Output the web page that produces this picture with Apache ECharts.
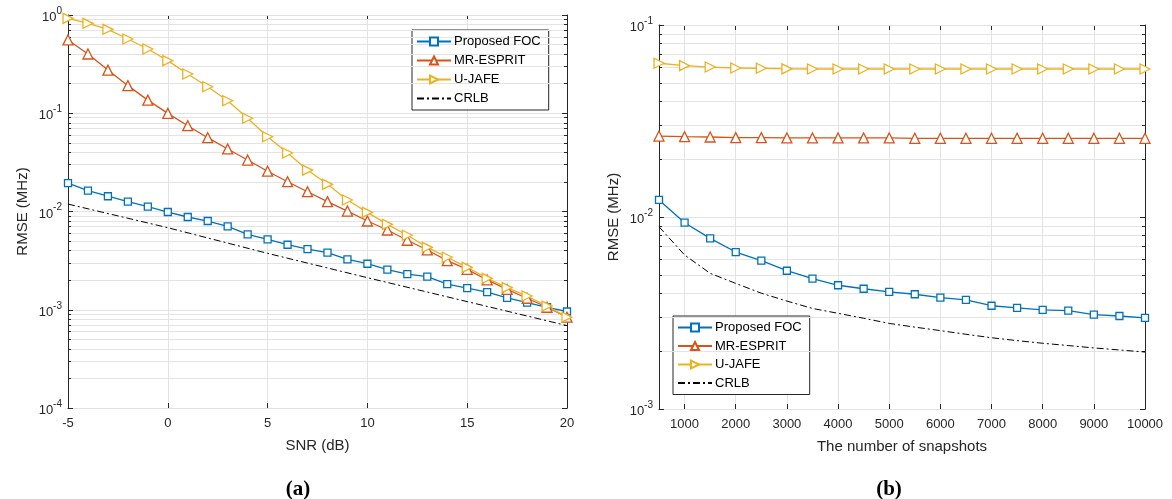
<!DOCTYPE html>
<html><head><meta charset="utf-8">
<script src="https://cdn.jsdelivr.net/npm/echarts@6/dist/echarts.min.js"></script>
<style>html,body{margin:0;padding:0;background:#fff}#c{width:1172px;height:499px}</style>
</head><body><div id="c"></div>
<script>
// ---- Panel (a): RMSE vs SNR ----
const snrDb = [-5,-4,-3,-2,-1,0,1,2,3,4,5,6,7,8,9,10,11,12,13,14,15,16,17,18,19,20];
const focSnr = [0.0194,0.0163,0.0143,0.0126,0.0112,0.00988,0.00879,0.0080,0.00706,0.00586,0.00521,0.00459,0.00415,0.00381,0.00326,0.00294,0.00256,0.0023,0.00217,0.00182,0.00166,0.00151,0.00132,0.00118,0.00106,0.00096];
const mrSnr = [0.557,0.401,0.275,0.191,0.136,0.0998,0.0747,0.0564,0.0433,0.0334,0.0257,0.0201,0.0159,0.0126,0.0101,0.0080,0.00648,0.0051,0.00406,0.00316,0.00258,0.00201,0.00161,0.00131,0.00106,0.00084];
const ujSnr = [0.925,0.823,0.715,0.570,0.451,0.343,0.251,0.186,0.134,0.0889,0.0577,0.0394,0.0264,0.0189,0.0131,0.0098,0.0074,0.00573,0.00432,0.00342,0.0027,0.00209,0.00168,0.00138,0.00109,0.00084];
const crlbSnrX = [-5,0,5,10,15,20];
const crlbSnr = [0.0119,0.00684,0.00375,0.00212,0.00121,0.00069];

// ---- Panel (b): RMSE vs number of snapshots ----
const snaps = [500,1000,1500,2000,2500,3000,3500,4000,4500,5000,5500,6000,6500,7000,7500,8000,8500,9000,9500,10000];
const focSnap = [0.01227,0.00934,0.00774,0.00657,0.00592,0.00525,0.00477,0.00441,0.00423,0.00407,0.00396,0.0038,0.0037,0.00345,0.00336,0.00328,0.00325,0.0031,0.00305,0.00298];
const mrSnap = [0.0264,0.0262,0.0261,0.0259,0.0259,0.0258,0.0258,0.0258,0.0258,0.0258,0.0257,0.0257,0.0257,0.0257,0.0257,0.0257,0.0257,0.0257,0.0257,0.0257];
const ujSnap = [0.0632,0.0614,0.0604,0.0597,0.0595,0.0591,0.059,0.059,0.059,0.059,0.059,0.059,0.059,0.059,0.059,0.059,0.059,0.059,0.059,0.059];
const crlbSnap = [0.0089,0.00634,0.00509,0.00451,0.00401,0.00365,0.00334,0.00315,0.00297,0.00279,0.00267,0.00256,0.00245,0.00235,0.00227,0.0022,0.00214,0.00208,0.00203,0.00198];
const snapTicks = [1000,2000,3000,4000,5000,6000,7000,8000,9000,10000];

const seriesNames = ['Proposed FOC','MR-ESPRIT','U-JAFE','CRLB'];

function minorVals(lo, hi){ // 2..9 x 10^k between decades lo..hi (exponents)
  const out=[]; for(let e=lo;e<hi;e++){ for(let m=2;m<=9;m++){ out.push(m*Math.pow(10,e)); } } return out;
}
const leftMinor = minorVals(-4,0);
const rightMinor = minorVals(-3,-1);

const C = {blue:'#0072BD', red:'#D95319', yellow:'#EDB120'};
const FONT = '"Liberation Sans", Arial, Helvetica, sans-serif';
const AX = '#262626';
const GRID = '#e3e3e3';

function pairs(xs, ys){ return xs.map((x,i)=>[x, ys[i]]); }

function supLabel(v){
  const e = Math.round(Math.log10(v));
  return '{b|10}{s|' + e + '}';
}
const supRich = {
  b:{fontSize:13, fontFamily:FONT, color:AX, lineHeight:18, verticalAlign:'bottom'},
  s:{fontSize:10, fontFamily:FONT, color:AX, lineHeight:18, verticalAlign:'top'}
};

function mainY(grid, min, max, decades, name, nameGap){
  return {type:'log', gridIndex:grid, min:min, max:max, logBase:10, position:'left',
    name:name, nameLocation:'middle', nameGap:nameGap, nameRotate:90,
    nameTextStyle:{fontSize:15, fontFamily:FONT, color:AX},
    axisLine:{show:true, onZero:false, lineStyle:{color:AX, width:1}},
    axisTick:{show:true, inside:true, length:5, lineStyle:{color:AX}, customValues:decades},
    axisLabel:{show:true, customValues:decades, formatter:supLabel, rich:supRich, margin:6},
    splitLine:{show:true, lineStyle:{color:GRID, width:1}},
    z:5};
}
function minorY(grid, min, max, vals, pos){
  return {type:'log', gridIndex:grid, min:min, max:max, logBase:10, position:pos,
    axisLine:{show:false, onZero:false}, axisLabel:{show:false},
    axisTick:{show:true, inside:true, length:3, lineStyle:{color:AX}, customValues:vals},
    splitLine:{show:pos==='left', lineStyle:{color:GRID, width:1}}, z:4};
}
function rightMajorY(grid, min, max, decades){
  return {type:'log', gridIndex:grid, min:min, max:max, logBase:10, position:'right',
    axisLine:{show:true, onZero:false, lineStyle:{color:AX}}, axisLabel:{show:false},
    axisTick:{show:true, inside:true, length:5, lineStyle:{color:AX}, customValues:decades},
    splitLine:{show:false}, z:5};
}

const serif = '"Liberation Serif", "DejaVu Serif", serif';
const capRich = {p:{fontSize:21, fontFamily:serif, color:'#000'}, b:{fontSize:21, fontWeight:'bold', fontFamily:serif, color:'#000'}};
const legendData = seriesNames.map(n => n==='CRLB' ? {name:n, itemStyle:{opacity:0}} : {name:n});

const option = {
  animation:false,
  backgroundColor:'#fff',
  textStyle:{fontFamily:FONT},
  title:[
    {text:'{p|(}{b|a}{p|)}', left:293, top:474, textAlign:'center', textStyle:{rich:capRich}},
    {text:'{p|(}{b|b}{p|)}', left:884, top:474, textAlign:'center', textStyle:{rich:capRich}}
  ],
  grid:[
    {left:68, top:15, width:499, height:393},
    {left:659, top:25, width:486, height:384}
  ],
  legend:[
    {orient:'vertical', left:412, top:30, data:legendData, itemWidth:34, itemHeight:10, itemGap:6,
     padding:[5,8,5,4], borderColor:AX, borderWidth:1, backgroundColor:'#fff',
     textStyle:{fontSize:13, fontFamily:FONT, color:'#000', padding:[0,0,0,-2]}, selectedMode:false},
    {orient:'vertical', left:673, top:316, data:legendData, itemWidth:34, itemHeight:10, itemGap:5.5,
     padding:[5,8,5,4], borderColor:AX, borderWidth:1, backgroundColor:'#fff',
     textStyle:{fontSize:13, fontFamily:FONT, color:'#000', padding:[0,0,0,-2]}, selectedMode:false}
  ],
  xAxis:[
    {type:'value', gridIndex:0, min:-5, max:20, interval:5, position:'bottom',
     name:'SNR (dB)', nameLocation:'middle', nameGap:30,
     nameTextStyle:{fontSize:15, fontFamily:FONT, color:AX},
     axisLine:{show:true, onZero:false, lineStyle:{color:AX}},
     axisTick:{show:true, inside:true, length:5, lineStyle:{color:AX}},
     axisLabel:{fontSize:13, fontFamily:FONT, color:AX, margin:9},
     splitLine:{show:true, lineStyle:{color:GRID}}},
    {type:'value', gridIndex:0, min:-5, max:20, interval:5, position:'top',
     axisLine:{show:true, onZero:false, lineStyle:{color:AX}},
     axisTick:{show:true, inside:true, length:5, lineStyle:{color:AX}},
     axisLabel:{show:false}, splitLine:{show:false}},
    {type:'value', gridIndex:1, min:500, max:10000, position:'bottom',
     name:'The number of snapshots', nameLocation:'middle', nameGap:30,
     nameTextStyle:{fontSize:15, fontFamily:FONT, color:AX},
     axisLine:{show:true, onZero:false, lineStyle:{color:AX}},
     axisTick:{show:true, inside:true, length:5, lineStyle:{color:AX}, customValues:snapTicks},
     axisLabel:{fontSize:13, fontFamily:FONT, color:AX, margin:9, customValues:snapTicks, formatter:v=>String(v)},
     splitLine:{show:true, lineStyle:{color:GRID}}},
    {type:'value', gridIndex:1, min:500, max:10000, position:'top',
     axisLine:{show:true, onZero:false, lineStyle:{color:AX}},
     axisTick:{show:true, inside:true, length:5, lineStyle:{color:AX}, customValues:snapTicks},
     axisLabel:{show:false}, splitLine:{show:false}}
  ],
  yAxis:[
    mainY(0, 1e-4, 1, [1e-4,1e-3,1e-2,1e-1,1], 'RMSE (MHz)', 38),
    minorY(0, 1e-4, 1, leftMinor, 'left'),
    rightMajorY(0, 1e-4, 1, [1e-4,1e-3,1e-2,1e-1,1]),
    minorY(0, 1e-4, 1, leftMinor, 'right'),
    mainY(1, 1e-3, 1e-1, [1e-3,1e-2,1e-1], 'RMSE (MHz)', 38),
    minorY(1, 1e-3, 1e-1, rightMinor, 'left'),
    rightMajorY(1, 1e-3, 1e-1, [1e-3,1e-2,1e-1]),
    minorY(1, 1e-3, 1e-1, rightMinor, 'right')
  ],
  series:[]
};

function mk(name, xi, yi, xs, ys, color, symbol, size, rot){
  return {name:name, type:'line', xAxisIndex:xi, yAxisIndex:yi, data:pairs(xs,ys),
    symbol:symbol, symbolSize:size, symbolRotate:rot||0, showSymbol:true,
    lineStyle:{color:color, width:1.3},
    itemStyle:{color:'#fff', borderColor:color, borderWidth:1.3}, z:10};
}
function crlb(xi, yi, xs, ys){
  return {name:'CRLB', type:'line', xAxisIndex:xi, yAxisIndex:yi, data:pairs(xs,ys),
    symbol:'none', lineStyle:{color:'#000', width:1, type:[7,3,2,3]}, itemStyle:{color:'#000'}, z:11};
}
option.series.push(
  mk('Proposed FOC',0,0,snrDb,focSnr,C.blue,'rect',7),
  mk('MR-ESPRIT',0,0,snrDb,mrSnr,C.red,'triangle',10),
  mk('U-JAFE',0,0,snrDb,ujSnr,C.yellow,'triangle',10,-90),
  crlb(0,0,crlbSnrX,crlbSnr),
  mk('Proposed FOC',2,4,snaps,focSnap,C.blue,'rect',7),
  mk('MR-ESPRIT',2,4,snaps,mrSnap,C.red,'triangle',10),
  mk('U-JAFE',2,4,snaps,ujSnap,C.yellow,'triangle',10,-90),
  crlb(2,4,snaps,crlbSnap)
);

const chart = echarts.init(document.getElementById('c'), null, {renderer:'canvas'});
chart.setOption(option);
</script></body></html>
